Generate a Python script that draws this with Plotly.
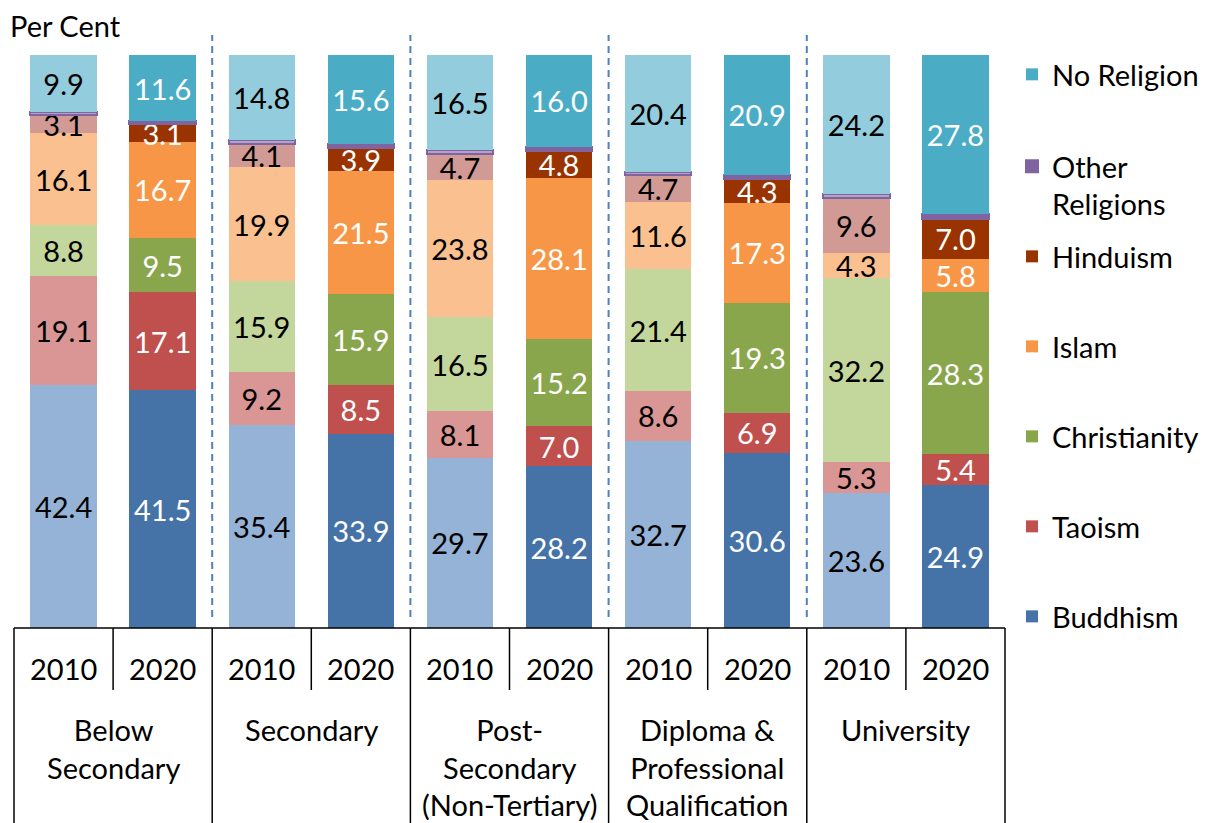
import plotly.graph_objects as go

# Education levels and census years
groups = ["Below<br>Secondary", "Secondary", "Post-<br>Secondary<br>(Non-Tertiary)",
          "Diploma &<br>Professional<br>Qualification", "University"]
years = ["2010", "2020"]

# Share of residents by religion (per cent), ordered level by level, 2010 then 2020
buddhism = [42.4, 41.5, 35.4, 33.9, 29.7, 28.2, 32.7, 30.6, 23.6, 24.9]
taoism = [19.1, 17.1, 9.2, 8.5, 8.1, 7.0, 8.6, 6.9, 5.3, 5.4]
christianity = [8.8, 9.5, 15.9, 15.9, 16.5, 15.2, 21.4, 19.3, 32.2, 28.3]
islam = [16.1, 16.7, 19.9, 21.5, 23.8, 28.1, 11.6, 17.3, 4.3, 5.8]
hinduism = [3.1, 3.1, 4.1, 3.9, 4.7, 4.8, 4.7, 4.3, 9.6, 7.0]
other_religions = [0.6, 0.5, 0.7, 0.7, 0.7, 0.7, 0.6, 0.7, 0.8, 0.8]
no_religion = [9.9, 11.6, 14.8, 15.6, 16.5, 16.0, 20.4, 20.9, 24.2, 27.8]

religions = ["Buddhism", "Taoism", "Christianity", "Islam", "Hinduism",
             "Other<br>Religions", "No Religion"]
values = [buddhism, taoism, christianity, islam, hinduism, other_religions, no_religion]

# (2010 colour, 2020 colour)
colors = [("#95B3D7", "#4573A7"),
          ("#D99694", "#C0504D"),
          ("#C3D69B", "#8AA64D"),
          ("#FAC090", "#F79646"),
          ("#D19A94", "#993300"),
          ("#B3A2C7", "#8064A2"),
          ("#93CDDD", "#4BACC6")]

FONT = "Lato"
FS = 29

keys = [f"{g}|{y}" for g in groups for y in years]
keys_by_year = {y: [k for k in keys if k.endswith(y)] for y in years}

fig = go.Figure()
n_rel = len(religions)
for i, (name, vals, cols) in enumerate(zip(religions, values, colors)):
    is_other = name.startswith("Other")
    legend_id = "legend" if i == n_rel - 1 else f"legend{n_rel - i}"
    for j, yr in enumerate(years):
        yv = vals[j::2]
        fig.add_trace(go.Bar(
            x=keys_by_year[yr], y=yv, name=name,
            legend=legend_id,
            showlegend=(yr == "2020"),
            marker=dict(color=cols[j],
                        line=dict(color="#8064A2", width=2) if is_other else dict(width=0)),
            texttemplate="" if is_other else "%{y:.1f}",
            textposition="none" if is_other else "inside",
            insidetextanchor="middle",
            textangle=0,
            textfont=dict(family=FONT, size=FS, color="black" if yr == "2010" else "white"),
            hoverinfo="x+y+name",
        ))

# Geometry of the plot area (px)
W, H = 1210, 823
L, R, T, B = 14, 205, 35, 195
ph = H - T - B
pw = W - L - R


def py(pix):
    """Convert a page y pixel to paper coordinates."""
    return (H - B - pix) / ph


def px(pix):
    return (pix - L) / pw


n_cat = len(keys)
shapes = []
# Dashed separators between education levels
for g in range(1, len(groups)):
    xp = g * 2 / n_cat
    shapes.append(dict(type="line", xref="paper", yref="paper", x0=xp, x1=xp,
                       y0=py(617), y1=1, line=dict(color="#4F81BD", width=2, dash="7px,5px")))
# Category table below the bars
shapes.append(dict(type="line", xref="paper", yref="paper", x0=0, x1=1, y0=0, y1=0,
                   line=dict(color="black", width=1.5)))
for k in range(n_cat + 1):
    xp = k / n_cat
    y_bottom = py(H + 5) if k % 2 == 0 else py(690)
    shapes.append(dict(type="line", xref="paper", yref="paper", x0=xp, x1=xp,
                       y0=0, y1=y_bottom, line=dict(color="black", width=1.5)))

annotations = []
for k in keys:
    annotations.append(dict(x=k, xref="x", y=py(668), yref="paper", text=k.split("|")[1],
                            showarrow=False, yanchor="middle",
                            font=dict(family=FONT, size=FS, color="black")))
for gi, g in enumerate(groups):
    annotations.append(dict(x=gi * 2 + 0.5, xref="x", y=py(710), yref="paper", text=g,
                            showarrow=False, yanchor="top", align="center",
                            font=dict(family=FONT, size=FS, color="black")))
annotations.append(dict(x=px(8), xref="paper", y=py(25), yref="paper", text="Per Cent",
                        showarrow=False, xanchor="left", yanchor="middle",
                        font=dict(family=FONT, size=FS, color="black")))

# One small legend per religion, stacked down the right side
legend_rows = [617, 527, 437, 347, 257, 167, 75]   # Buddhism ... No Religion
legends = {}
for i in range(n_rel):
    legend_id = "legend" if i == n_rel - 1 else f"legend{n_rel - i}"
    legends[legend_id] = dict(x=px(1012), y=py(legend_rows[i] - 26), xanchor="left", yanchor="top",
                              valign="top", bgcolor="rgba(0,0,0,0)",
                              font=dict(family=FONT, size=FS, color="black"))

fig.update_layout(
    width=W, height=H,
    margin=dict(l=L, r=R, t=T, b=B, autoexpand=False),
    barmode="stack", bargap=0.33,
    plot_bgcolor="white", paper_bgcolor="white",
    xaxis=dict(type="category", categoryorder="array", categoryarray=keys,
               showticklabels=False, showgrid=False, zeroline=False, showline=False,
               range=[-0.5, n_cat - 0.5], fixedrange=True),
    yaxis=dict(range=[0, 100 * ph / (H - B - 55)], visible=False, fixedrange=True),
    uniformtext=dict(mode="show", minsize=FS),
    shapes=shapes, annotations=annotations,
    **legends,
)

fig.write_html("out.html")
